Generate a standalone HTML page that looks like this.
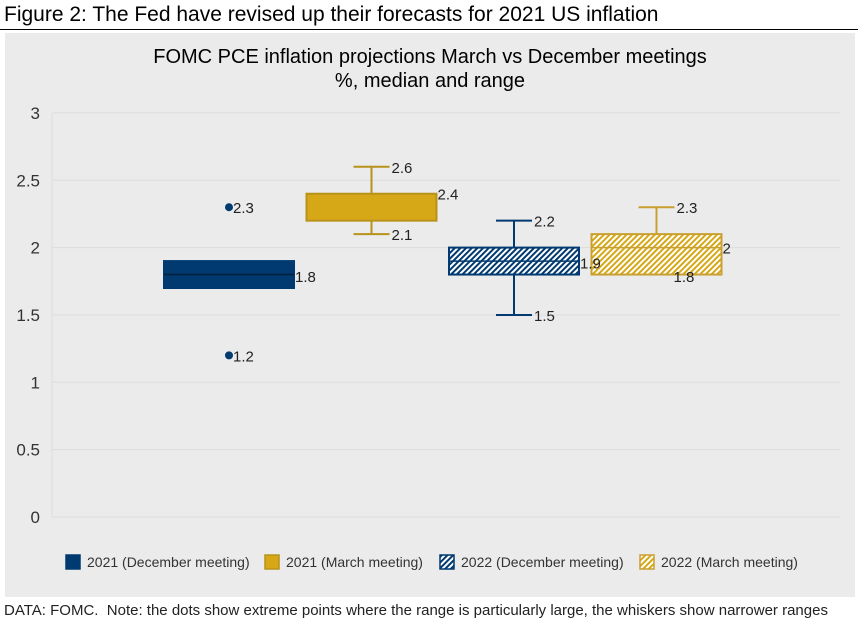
<!DOCTYPE html>
<html><head><meta charset="utf-8"><style>
body{margin:0;width:863px;height:625px;background:#fff;font-family:"Liberation Sans",Arial,sans-serif;overflow:hidden;position:relative}
</style></head><body>
<div style="position:absolute;left:4px;top:3px;font-size:21px;color:#000;white-space:nowrap">Figure 2: The Fed have revised up their forecasts for 2021 US inflation</div>
<div style="position:absolute;left:0;top:29px;width:858px;height:1px;background:#000"></div>
<svg id="chart" width="863" height="625" style="position:absolute;left:0;top:0">
<defs>
<pattern id="hb" patternUnits="userSpaceOnUse" width="4" height="4" patternTransform="rotate(45)"><rect width="4" height="4" fill="#fff"/><rect width="2" height="4" fill="#003a70"/></pattern>
<pattern id="hy" patternUnits="userSpaceOnUse" width="4" height="4" patternTransform="rotate(45)"><rect width="4" height="4" fill="#fff"/><rect width="2" height="4" fill="#d6a817"/></pattern>
</defs>
<rect x="5" y="33" width="850" height="564" fill="#ebebeb"/>
<text x="430" y="63" font-size="20" text-anchor="middle" fill="#000">FOMC PCE inflation projections March vs December meetings</text>
<text x="430" y="87" font-size="20" text-anchor="middle" fill="#000">%, median and range</text>
<g id="grid"></g><g id="marks"></g><g id="labels"></g><g id="legend"></g>
</svg>
<div style="position:absolute;left:4px;top:602px;font-size:15px;color:#222;white-space:nowrap">DATA: FOMC.&nbsp; Note: the dots show extreme points where the range is particularly large, the whiskers show narrower ranges</div>
<script>
const ticks=[0,0.5,1,1.5,2,2.5,3];
const series=["2021 (December meeting)","2021 (March meeting)","2022 (December meeting)","2022 (March meeting)"];
const boxLow=[1.7,2.2,1.8,1.8];
const boxHigh=[1.9,2.4,2.0,2.1];
const medians=[1.8,2.3,1.9,2.0];
const whiskerLow=[null,2.1,1.5,null];
const whiskerHigh=[null,2.6,2.2,2.3];
const dotHigh=[2.3,null,null,null];
const dotLow=[1.2,null,null,null];
const fills=["#003a70","#d6a817","url(#hb)","url(#hy)"];
const strokes=["#003a70","#b8921a","#003a70","#c9a030"];
const ns="http://www.w3.org/2000/svg";
const y=v=>517-v*134.7;
const xc=i=>229+i*142.5;
function mk(p,t,a){const e=document.createElementNS(ns,t);for(const k in a)e.setAttribute(k,a[k]);document.getElementById(p).appendChild(e);return e;}
ticks.forEach(t=>{
 const l=mk('grid','line',{x1:52,x2:840,y1:y(t),y2:y(t),stroke:'#dcdcdc','stroke-width':1});
 
 
 const tx=mk('grid','text',{x:40,y:y(t)+6,'font-size':17,'text-anchor':'end',fill:'#333'});tx.textContent=t;
 
 
});
mk('grid','line',{x1:52,x2:52,y1:y(3),y2:y(0),stroke:'#dcdcdc'});
function lab(x,v,txt){const t=mk('labels','text',{x:x,y:y(v)+6,'font-size':15,fill:'#222'});t.textContent=txt;
 
 }
series.forEach((s,i)=>{
 const c=xc(i),w=130,st=strokes[i];
 if(whiskerHigh[i]!=null){
  mk('marks','line',{x1:c,x2:c,y1:y(whiskerHigh[i]),y2:y(boxHigh[i]),stroke:st,'stroke-width':2});
  mk('marks','line',{x1:c-18,x2:c+18,y1:y(whiskerHigh[i]),y2:y(whiskerHigh[i]),stroke:st,'stroke-width':2});
  lab(c+20,whiskerHigh[i],whiskerHigh[i]);
 }
 if(whiskerLow[i]!=null){
  mk('marks','line',{x1:c,x2:c,y1:y(boxLow[i]),y2:y(whiskerLow[i]),stroke:st,'stroke-width':2});
  mk('marks','line',{x1:c-18,x2:c+18,y1:y(whiskerLow[i]),y2:y(whiskerLow[i]),stroke:st,'stroke-width':2});
  lab(c+20,whiskerLow[i],whiskerLow[i]);
 }
 const r=mk('marks','rect',{x:c-w/2,y:y(boxHigh[i]),width:w,height:y(boxLow[i])-y(boxHigh[i]),fill:fills[i],stroke:st,'stroke-width':2});
 
 
 if(i!=1)mk('marks','line',{x1:c-w/2,x2:c+w/2,y1:y(medians[i]),y2:y(medians[i]),stroke:i==0?'#001d3a':st,'stroke-width':1.5});
 if(i==0)lab(c+w/2+1,medians[i]-0.01,medians[i]);
 if(i==1)lab(c+w/2+1,boxHigh[i],boxHigh[i]);
 if(i==2)lab(c+w/2+1,medians[i]-0.01,medians[i]);
 if(i==3){lab(c+w/2+1,medians[i],medians[i]);lab(c+17,boxLow[i]-0.01,boxLow[i]);}
 [dotHigh[i],dotLow[i]].forEach(d=>{if(d!=null){const p=mk('marks','circle',{cx:c,cy:y(d),r:4,fill:'#003a70'});
  
  
  lab(c+4,d,d);}});
 const lx=[66,265,440,640][i];
 const lr=mk('legend','rect',{x:lx,y:555,width:14,height:14,fill:fills[i],stroke:st,'stroke-width':1.5});
 
 
 const lt=mk('legend','text',{x:lx+21,y:567,'font-size':14,fill:'#333'});lt.textContent=s;
 
 
});
</script>
</body></html>
